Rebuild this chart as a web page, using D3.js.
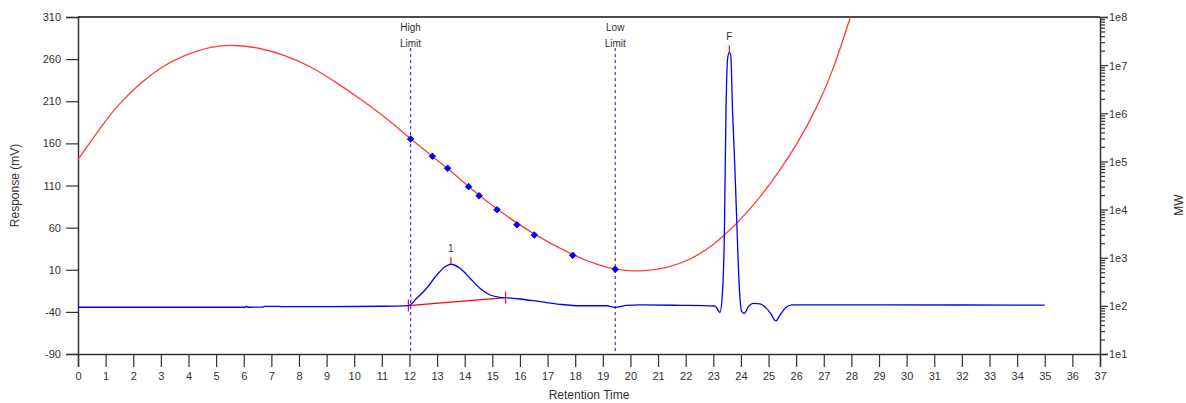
<!DOCTYPE html>
<html>
<head>
<meta charset="utf-8">
<script src="https://cdn.jsdelivr.net/npm/d3@7"></script>
<style>
  html, body { margin: 0; padding: 0; background: #fff; }
  svg { display: block; font-family: "Liberation Sans", Arial, sans-serif; }
</style>
</head>
<body>
<svg id="chart" width="1186" height="403"></svg>
<script>
// Axis tick values
const timeTicks = [0,1,2,3,4,5,6,7,8,9,10,11,12,13,14,15,16,17,18,19,20,21,22,23,24,25,26,27,28,29,30,31,32,33,34,35,36,37];
const responseTicks = [-90, -40, 10, 60, 110, 160, 210, 260, 310];
const mwTicks = [1e1, 1e2, 1e3, 1e4, 1e5, 1e6, 1e7, 1e8];

// Detector trace (retention time, mV)
const chromTime = [0, 6.05, 6.1, 6.15, 6.7, 6.75, 7.3, 7.35, 9.0, 11.0, 11.96, 12.26, 12.62, 12.99, 13.29, 13.5,
  13.83, 14.19, 14.55, 14.92, 15.28, 15.48, 16.0, 16.73, 17.45, 18.17, 19.14, 19.44, 19.87, 20.35, 21.8,
  23.06, 23.24, 23.33, 23.4, 23.46, 23.52, 23.58, 23.63, 23.7, 23.78, 23.85, 23.94, 24.03, 24.12, 24.27,
  24.45, 24.69, 24.93, 25.11, 25.26, 25.42, 25.6, 25.84, 29.0, 35.0];
const chromResp = [-34.5, -34.5, -33.3, -34.5, -34.3, -33.4, -33.4, -33.8, -33.7, -33.3, -32.5, -23.9, -12, 3.8, 13.6, 16.5,
  11.7, 0, -12, -20, -22.7, -23.1, -24.7, -27.9, -31, -32.7, -32.7, -34.6, -32.2, -31.8, -32.2,
  -33, -40.5, -18, 51, 199.6, 261, 268, 265, 195.7, 132, 67, -10, -39.8, -41.7, -33.8,
  -29.8, -30.6, -35.8, -43.7, -50.8, -43.7, -35.8, -31.8, -31.8, -32];

// Calibration standards (retention time, molecular weight)
const stdTime = [12.04, 12.83, 13.38, 14.14, 14.52, 15.17, 15.89, 16.52, 17.91, 19.45];
const stdMW = [292000, 128000, 72000, 29900, 19400, 9930, 4850, 2970, 1120, 575];

// Calibration curve (retention time, molecular weight)
const calTime = [0, 0.72, 1.2, 1.57, 2.17, 3.02, 3.86, 4.83, 5.67, 6.52, 7.48, 8.45, 9.41, 10.26, 11.22,
  12.04, 12.83, 13.38, 14.14, 15.17, 16.52, 17.91, 18.9, 19.45, 19.87, 20.47, 21.31, 22.16, 23.0, 23.4,
  23.85, 24.57, 25.3, 26.02, 26.74, 27.35, 27.95, 28.2];
const calMW = [110000, 417000, 1000000, 1740000, 3890000, 9330000, 16200000, 25100000, 26300000, 23400000,
  16200000, 9330000, 4170000, 1910000, 759000, 292000, 128000, 72000, 29900, 9930, 2970, 1120, 682, 575,
  537, 525, 603, 891, 1820, 2950, 5130, 14500, 52500, 219000, 1260000, 7940000, 97700000, 230000000];

// Integration limits and peaks
const limitTime = [12.04, 19.45];
const limitName = ["High", "Low"];
const peakName = ["1", "F"];
const peakTime = [13.5, 23.58];
const peakResp = [16.5, 268];
const peak1Start = [11.96, -32.5];
const peak1End = [15.48, -23.1];

const svg = d3.select("#chart");
const L = 78, R = 1100, T = 17, B = 354;

const x = d3.scaleLinear().domain([0, 37]).range([L, R]);
const y = d3.scaleLinear().domain([-90, 310]).range([B, T]);
const yMW = d3.scaleLog().domain([1e1, 1e8]).range([B, T]);

const axisColor = "#333";
const textColor = "#333";

// Clip region for plotted data
svg.append("defs").append("clipPath").attr("id", "plotClip")
  .append("rect").attr("x", L).attr("y", T).attr("width", R - L).attr("height", B - T);

// Left axis
const gl = svg.append("g").attr("transform", `translate(${L},0)`)
  .call(d3.axisLeft(y).tickValues(responseTicks).tickSize(12).tickPadding(5).tickFormat(d => String(d)));
// Bottom axis
const gb = svg.append("g").attr("transform", `translate(0,${B})`)
  .call(d3.axisBottom(x).tickValues(timeTicks).tickSize(13).tickPadding(5).tickFormat(d => String(d)));
// Right axis with log minor ticks
const minor = [];
for (let e = 1; e < 8; e++) for (let m = 2; m <= 9; m++) minor.push(m * Math.pow(10, e));
const gr = svg.append("g").attr("transform", `translate(${R},0)`);
gr.call(d3.axisRight(yMW).tickValues(minor).tickSize(5).tickFormat(""));
gr.call(g => g.selectAll(".domain").remove());
const grMajor = svg.append("g").attr("transform", `translate(${R},0)`)
  .call(d3.axisRight(yMW).tickValues(mwTicks).tickSize(8).tickPadding(1)
    .tickFormat(d => "1e" + Math.round(Math.log10(d))));

[gl, gb, gr, grMajor].forEach(g => {
  g.selectAll("path.domain").attr("stroke", axisColor).attr("stroke-width", 1.5);
  g.selectAll(".tick line").attr("stroke", axisColor).attr("stroke-width", 1.2);
  g.selectAll(".tick text").attr("fill", textColor).style("font-size", "11px")
    .style("font-family", '"Liberation Sans", Arial, sans-serif');
});
grMajor.selectAll(".tick text").attr("dy", "0.35em");

// Top border
svg.append("line").attr("x1", L).attr("x2", R).attr("y1", T).attr("y2", T)
  .attr("stroke", "#111").attr("stroke-width", 1.5);

// Axis titles
svg.append("text").attr("transform", `translate(19,${(T + B) / 2}) rotate(-90)`)
  .attr("text-anchor", "middle").attr("fill", textColor).style("font-size", "12px").text("Response (mV)");
svg.append("text").attr("x", x(18.5)).attr("y", 399)
  .attr("text-anchor", "middle").attr("fill", textColor).style("font-size", "12px").text("Retention Time");
svg.append("text").attr("transform", `translate(1183,205) rotate(-90)`)
  .attr("text-anchor", "middle").attr("fill", textColor).style("font-size", "12px").text("MW");

const plot = svg.append("g").attr("clip-path", "url(#plotClip)");

// Limit lines
limitTime.forEach((t, i) => {
  plot.append("line").attr("x1", x(t)).attr("x2", x(t)).attr("y1", 48).attr("y2", B)
    .attr("stroke", "#3333ff").attr("stroke-width", 1.2).attr("stroke-dasharray", "3,3");
  svg.append("text").attr("x", x(t)).attr("y", 31).attr("text-anchor", "middle")
    .attr("fill", "#333").style("font-size", "10px").text(limitName[i]);
  svg.append("text").attr("x", x(t)).attr("y", 47).attr("text-anchor", "middle")
    .attr("fill", "#333").style("font-size", "10px").text("Limit");
});

// Calibration curve
const calLine = d3.line().x(d => x(d[0])).y(d => yMW(d[1])).curve(d3.curveBasis);
plot.append("path").datum(calTime.map((t, i) => [t, calMW[i]]))
  .attr("d", calLine).attr("fill", "none").attr("stroke", "#ff3b3b").attr("stroke-width", 1.3);

// Peak 1 baseline
plot.append("line").attr("x1", x(peak1Start[0])).attr("y1", y(peak1Start[1]))
  .attr("x2", x(peak1End[0])).attr("y2", y(peak1End[1]))
  .attr("stroke", "#ff0000").attr("stroke-width", 1.2);
[peak1Start, peak1End].forEach(p => {
  plot.append("line").attr("x1", x(p[0])).attr("x2", x(p[0]))
    .attr("y1", y(p[1]) - 6).attr("y2", y(p[1]) + 6)
    .attr("stroke", "#ff0000").attr("stroke-width", 1.2);
});

// Detector trace
const chromLine = d3.line().x(d => x(d[0])).y(d => y(d[1])).curve(d3.curveMonotoneX);
plot.append("path").datum(chromTime.map((t, i) => [t, chromResp[i]]))
  .attr("d", chromLine).attr("fill", "none").attr("stroke", "#0000ff").attr("stroke-width", 1.3);

// Peak apex markers and labels
peakTime.forEach((t, i) => {
  plot.append("line").attr("x1", x(t)).attr("x2", x(t))
    .attr("y1", y(peakResp[i]) - 7).attr("y2", y(peakResp[i]))
    .attr("stroke", "#ff0000").attr("stroke-width", 1.2);
  svg.append("text").attr("x", x(t)).attr("y", y(peakResp[i]) - 12).attr("text-anchor", "middle")
    .attr("fill", "#333").style("font-size", "10px").text(peakName[i]);
});

// Calibration standard markers
plot.selectAll("path.std").data(stdTime.map((t, i) => [t, stdMW[i]])).enter()
  .append("path").attr("class", "std")
  .attr("transform", d => `translate(${x(d[0])},${yMW(d[1])}) rotate(45)`)
  .attr("d", d3.symbol().type(d3.symbolSquare).size(22))
  .attr("fill", "#0000ff").attr("stroke", "#0000ff").attr("stroke-width", 0.8)
  .attr("stroke-linejoin", "round");
</script>
</body>
</html>
